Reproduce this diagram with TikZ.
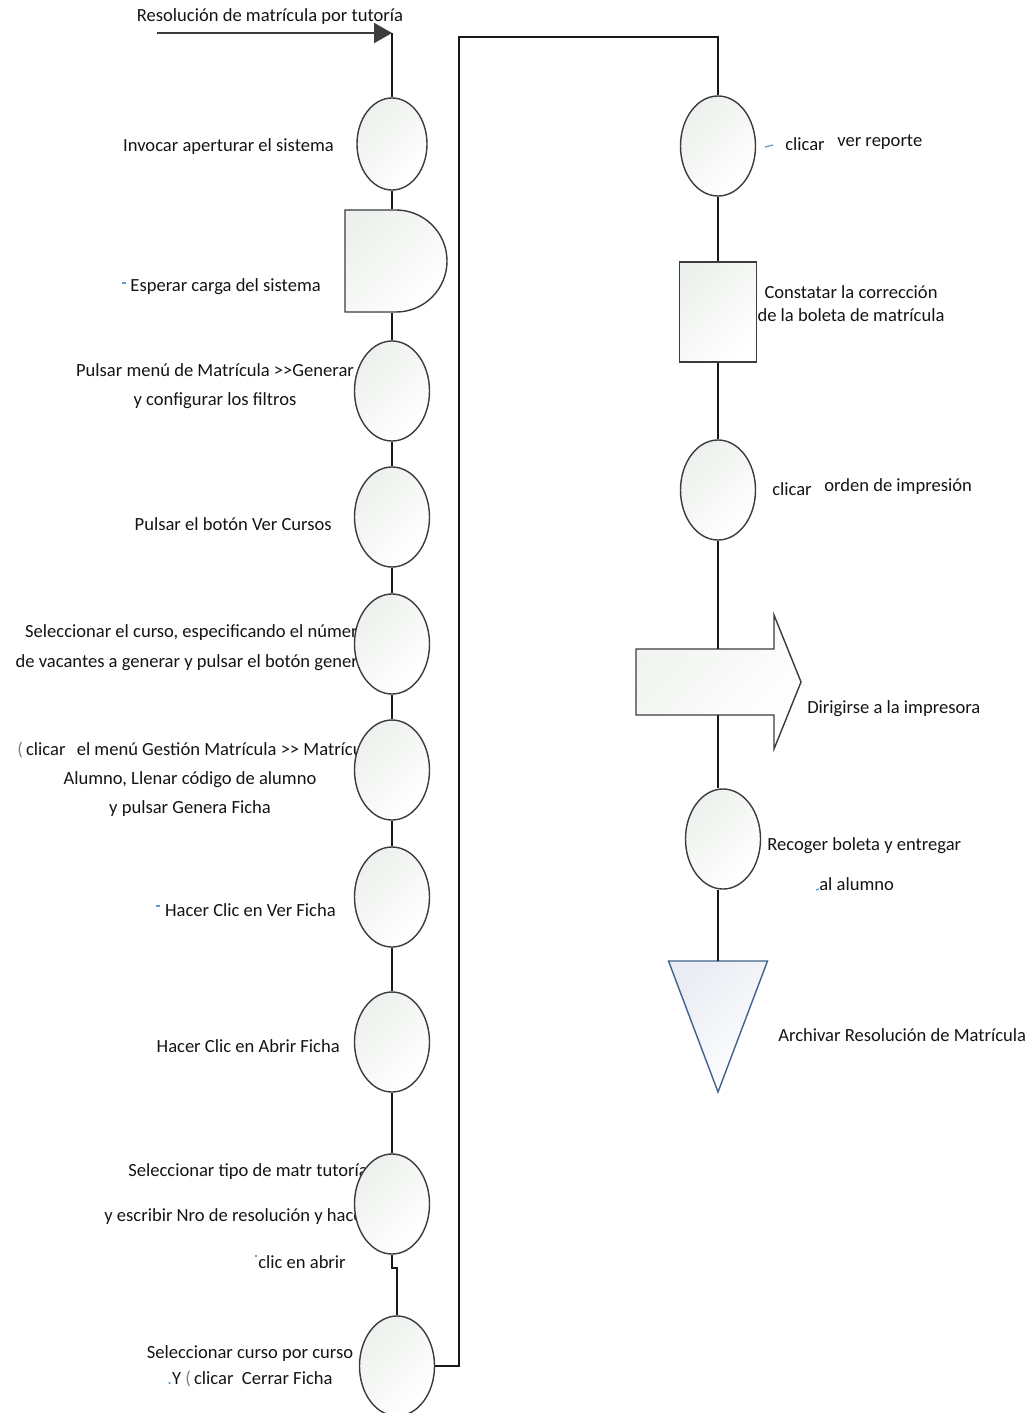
\documentclass[tikz,border=0pt]{standalone}
\usepackage{fontspec}
\setmainfont{Carlito}
\usetikzlibrary{arrows.meta, shapes.geometric, shapes.misc}

\definecolor{ink}{HTML}{141414}
\definecolor{edge}{HTML}{3C3C3C}
\definecolor{shadeG}{HTML}{EDF1ED}
\definecolor{shadeB}{HTML}{E9ECF3}
\definecolor{triedge}{HTML}{41638C}
\definecolor{tick}{HTML}{5B9BD5}

\begin{document}
\begin{tikzpicture}[
  x=0.025cm, y=-0.025cm,
  font=\fontsize{13.2}{16.4}\selectfont, text=ink,
  act/.style={ellipse, draw=edge, line width=1pt,
              top color=shadeG, bottom color=white, shading angle=45,
              minimum width=1.875cm, minimum height=2.5cm, inner sep=0pt},
  waitbox/.style={rounded rectangle, rounded rectangle west arc=none,
              draw=edge, line width=1pt,
              top color=shadeG, bottom color=white, shading angle=45,
              minimum width=2.475cm, minimum height=2.55cm, inner sep=0pt},
  chkbox/.style={rectangle, draw=edge, line width=1pt,
              top color=shadeG, bottom color=white, shading angle=45,
              minimum width=1.925cm, minimum height=2.5cm, inner sep=0pt},
  ghost/.style={inner sep=0pt, outer sep=0pt},
  goshape/.style={draw=edge, line width=1pt,
              top color=shadeG!80, bottom color=white, shading angle=45},
  archshape/.style={draw=triedge, line width=1pt,
              top color=shadeB, bottom color=white, shading angle=45},
  flow/.style={draw=black!90, line width=1.1pt},
  lbl/.style={inner sep=0pt},
  tickmk/.style={draw=tick, line width=0.9pt}
]
\useasboundingbox (0,0) rectangle (1036,1413);

%% Labels, left column (drawn first: the shapes hide their ends)
\node[lbl] (ttl) at (270,17) {Resolución de matrícula por tutoría};
\node[lbl, anchor=east] (t1) at (334,147) {Invocar aperturar el sistema};
\node[lbl, anchor=east] (tw) at (321,287) {Esperar carga del sistema};
\node[lbl, align=center] (t2) at (215,386)
  {Pulsar menú de Matrícula >{}>Generar\\[4.2pt] y configurar los filtros};
\node[lbl, anchor=east] (t3) at (332,524) {Pulsar el botón Ver Cursos};
\node[lbl, align=right, anchor=east] (t4) at (358,648)
  {Seleccionar el curso, especificando el númer\\[5pt] de vacantes a generar y pulsar el botón gener};
\node[lbl, align=center] (t5) at (190,779)
  {\textcolor{gray}{(}\,clicar\hspace{8pt}el menú Gestión Matrícula >{}> Matrícu\\[4.2pt]
   Alumno, Llenar código de alumno\\[4.2pt] y pulsar Genera Ficha};
\node[lbl, anchor=east] (t6) at (336,910) {Hacer Clic en Ver Ficha};
\node[lbl, anchor=east] (t7) at (340,1046) {Hacer Clic en Abrir Ficha};
\node[lbl, anchor=east] (t8a) at (368,1172) {Seleccionar tipo de matr tutoría};
\node[lbl, anchor=east] (t8b) at (363,1217) {y escribir Nro de resolución y hace};
\node[lbl, anchor=east] (t8c) at (346,1262) {clic en abrir};
\node[lbl, align=center] (t9) at (250,1366)
  {Seleccionar curso por curso\\[2.1pt]
   \textcolor{tick}{.}Y \textcolor{gray}{(}\,clicar\hspace{6pt}Cerrar Ficha};

%% Labels, right column
\node[lbl, anchor=west] (u1) at (785,143) {clicar\hspace{9pt}\raisebox{3pt}{ver reporte}};
\node[lbl, align=center] (uc) at (851,304)
  {Constatar la corrección\\de la boleta de matrícula};
\node[lbl, anchor=west] (u2) at (772,487) {clicar\hspace{9pt}\raisebox{3pt}{orden de impresión}};
\node[lbl, anchor=west] (ug) at (807,709) {Dirigirse a la impresora};
\node[lbl, anchor=west] (u3a) at (767,846) {Recoger boleta y entregar};
\node[lbl, anchor=west] (u3b) at (819,884) {al alumno};
\node[lbl, anchor=west] (ua) at (778,1035) {Archivar Resolución de Matrícula};

%% Left column shapes
\node[act, minimum width=1.75cm, minimum height=2.3cm] (e1) at (392,144) {};
\node[waitbox] (wait) at (396,261) {};
\node[act] (e2) at (392,391) {};
\node[act] (e3) at (392,517) {};
\node[act] (e4) at (392,644) {};
\node[act] (e5) at (392,770) {};
\node[act] (e6) at (392,897) {};
\node[act] (e7) at (392,1042) {};
\node[act] (e8) at (392,1204) {};
\node[act] (e9) at (397,1366) {};

%% Right column shapes
\node[act] (r1) at (718,146) {};
\node[chkbox] (chk) at (718,312) {};
\node[act] (r2) at (718,490) {};
\node[ghost, minimum width=3.45cm, minimum height=1.65cm] (go) at (705,682) {};
\draw[goshape] (go.north west) -- (go.north east) -- ++(0,-34) -- ++(27,67)
  -- ++(-27,67) -- ++(0,-34) -- (go.south west) -- cycle;
\node[act] (r3) at (723,839) {};
\node[ghost, minimum width=2.475cm, minimum height=3.275cm] (arch) at (718,1026.5) {};
\draw[archshape] (arch.north west) -- (arch.north east) -- (arch.south) -- cycle;

%% Connectors
\coordinate (entry) at (157,33);
\coordinate (top) at (392,33);
\coordinate (bend) at (459,37);
\draw[draw=edge, line width=1.7pt, -{Triangle[length=0.45cm, width=0.5cm]}] (entry) -- (top);
\draw[flow] (top) -- (e1.north);
\draw[flow] (e1.south) -- (e1.south |- wait.north);
\draw[flow] (e1.south |- wait.south) -- (e2.north);
\foreach \a/\b in {e2/e3, e3/e4, e4/e5, e5/e6, e6/e7, e7/e8}
  \draw[flow] (\a.south) -- (\b.north);
\draw[flow] (e8.south) -- ++(0,13) -| (e9.north);
\draw[flow] (e9.east) -| (bend) -| (r1.north);
\draw[flow] (r1.south) -- (chk.north);
\draw[flow] (chk.south) -- (r2.north);
\draw[flow] (r2.south) -- (r2.south |- go.north);
\draw[flow] (r2.south |- go.south) -- (r2.south |- r3.north);
\draw[flow] (r2.south |- r3.south) -- (arch.north);

%% Small blue marks
\draw[tickmk] (122,283) -- (126,283);
\draw[tickmk] (156,906) -- (160,906);
\draw[tickmk] (255,1256) -- (257,1256);
\draw[tickmk] (765,147) -- (773,145);
\draw[tickmk] (816,890) -- (819,889);

\end{tikzpicture}
\end{document}
